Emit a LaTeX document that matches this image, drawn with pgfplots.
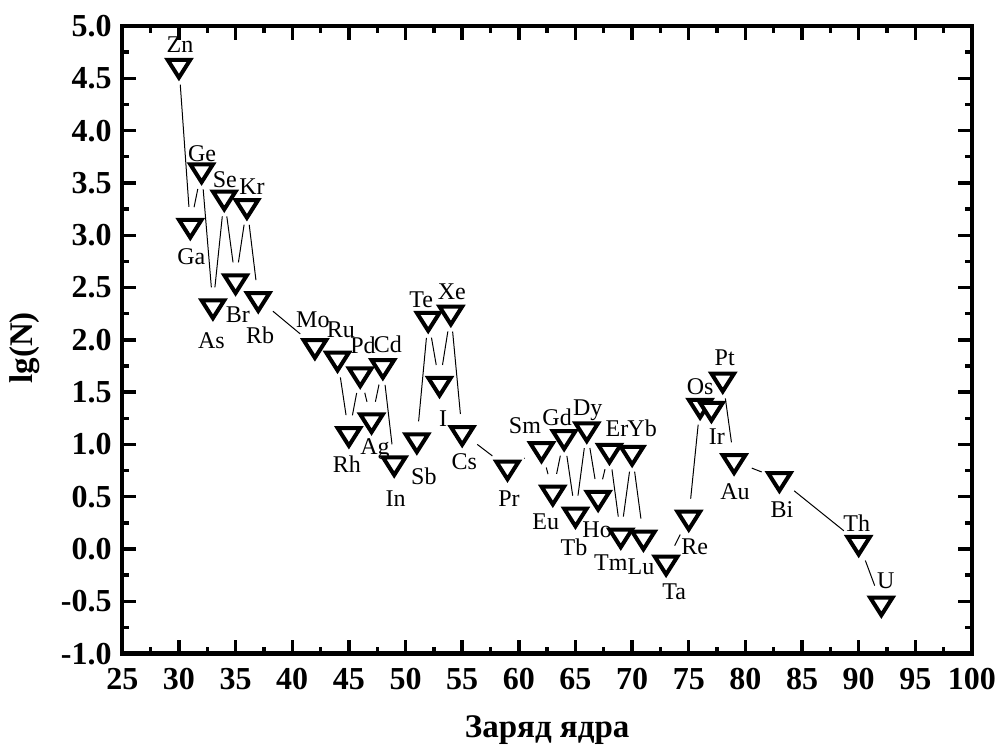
\documentclass[border=0pt]{standalone}
\usepackage{fontspec}
\setmainfont{Liberation Serif}
\usepackage{pgfplots}
\usepackage{pgfplotstable}
\pgfplotsset{compat=1.18}
\pgfplotstableread{
x y nx ny seg name dx dy
30 4.62 31 3.09 1 Zn 0.5 6.5
31 3.09 32 3.62 1 Ga 0.5 -19.5
32 3.62 33 2.32 1 Ge 0.2 4.5
33 2.32 34 3.36 1 As -0.75 -21
34 3.36 35 2.56 1 Se 0.3 4.9
35 2.56 36 3.28 1 Br 1.2 -20.5
36 3.28 37 2.39 1 Kr 2.5 5.5
37 2.39 42 1.94 1 Rb 0.9 -22
42 1.94 44 1.82 0 Mo -1 9.5
44 1.82 45 1.10 1 Ru 1.7 10.5
45 1.10 46 1.67 1 Rh -1 -19.5
46 1.67 47 1.23 1 Pd 1.4 10.5
47 1.23 48 1.75 1 Ag 1.7 -17
48 1.75 49 0.82 1 Cd 2.5 6.5
49 0.82 51 1.04 0 In 0.75 -21.5
51 1.04 52 2.20 1 Sb 3.5 -22
52 2.20 53 1.58 1 Te -3.5 5.5
53 1.58 54 2.26 1 I 1.75 -21.5
54 2.26 55 1.11 1 Xe 0.5 6.5
55 1.11 59 0.78 1 Cs 1 -18.5
59 0.78 62 0.955 1 Pr 0.75 -19.5
62 0.955 63 0.54 1 Sm -8.25 8
63 0.54 64 1.07 1 Eu -3.5 -18.5
64 1.07 65 0.33 1 Gd -3.5 6
65 0.33 66 1.145 1 Tb -0.75 -20.5
66 1.145 67 0.49 1 Dy 0.5 7
67 0.49 68 0.94 1 Ho -0.5 -20
68 0.94 69 0.13 1 Er 3.75 7
69 0.13 70 0.92 1 Tm -5 -17.5
70 0.92 71 0.11 1 Yb 5 8
71 0.11 73 -0.13 0 Lu -1.25 -18.5
73 -0.13 75 0.30 1 Ta 4 -18.5
75 0.30 76 1.37 1 Re 3 -18.5
76 1.37 77 1.34 0 Os 0 5.5
77 1.34 78 1.62 0 Ir 2.75 -18
78 1.62 79 0.84 1 Pt 1 7
79 0.84 83 0.67 1 Au 0.5 -19
83 0.67 90 0.06 1 Bi 1.3 -19.5
90 0.06 92 -0.52 1 Th -1 5.5
92 -0.52 92 -0.52 0 U 2.25 7.5
}\data
\begin{document}
\begin{tikzpicture}
\begin{axis}[
  scale only axis, width=424.85pt, height=313.8pt,
  xmin=25, xmax=100, ymin=-1, ymax=5,
  xtick={25,30,35,40,45,50,55,60,65,70,75,80,85,90,95,100},
  ytick={-1,-0.5,0,0.5,1,1.5,2,2.5,3,3.5,4,4.5,5},
  minor x tick num=1, minor y tick num=1,
  tick align=inside, tick pos=both,
  major tick length=7pt, minor tick length=3.5pt,
  tick style={black, line width=1.7pt},
  axis line style={line width=2.2pt, line join=miter},
  /pgf/number format/assume math mode=true,
  tick label style={font=\bfseries\fontsize{16}{16}\selectfont},
  x tick label style={yshift=-4pt, /pgf/number format/.cd, fixed, precision=0},
  y tick label style={xshift=-1.8pt, /pgf/number format/.cd, fixed, fixed zerofill, precision=1},
  xlabel={Заряд ядра}, ylabel={lg(N)},
  every axis x label/.style={at={(axis description cs:0.5,0)}, anchor=base, yshift=-41.7pt, font=\bfseries\fontsize{16.5}{16.5}\selectfont},
  every axis y label/.style={at={(axis description cs:0,0.5)}, anchor=center, xshift=-48.6pt, yshift=-4pt, rotate=90, font=\bfseries\fontsize{16.5}{16.5}\selectfont},
  clip=false,
]
% connecting lines with gaps at the symbols
\addplot[black, line width=0.5pt, restrict expr to domain={\thisrow{seg}}{0.5:1.5},
  quiver={u=\thisrow{nx}-\thisrow{x}, v=\thisrow{ny}-\thisrow{y},
    every arrow/.append style={-, shorten <=9.5pt, shorten >=9.5pt}}]
  table[x=x, y=y] {\data};
% labels
\addplot[only marks, mark=*, mark size=0pt, mark options={draw=none, fill=none},
  nodes near coords={\pgfplotspointmeta}, point meta=explicit symbolic,
  visualization depends on={\thisrow{dx} \as \dx},
  visualization depends on={\thisrow{dy} \as \dy},
  every node near coord/.style={anchor=base, inner sep=0pt, xshift=\dx pt, yshift=\dy pt,
    font=\fontsize{12}{12}\selectfont, text=black}]
  table[x=x, y=y, meta=name] {\data};
% markers
\addplot[only marks, mark=triangle*, mark size=5.9pt,
  mark options={rotate=180, xscale=1.1, line width=2pt, draw=black, fill=white, line join=miter}]
  table[x=x, y=y] {\data};
\end{axis}
\pgfresetboundingbox
\path[use as bounding box] (-61.15pt,-46.2pt) rectangle (438.85pt,326.8pt);
\end{tikzpicture}
\end{document}
